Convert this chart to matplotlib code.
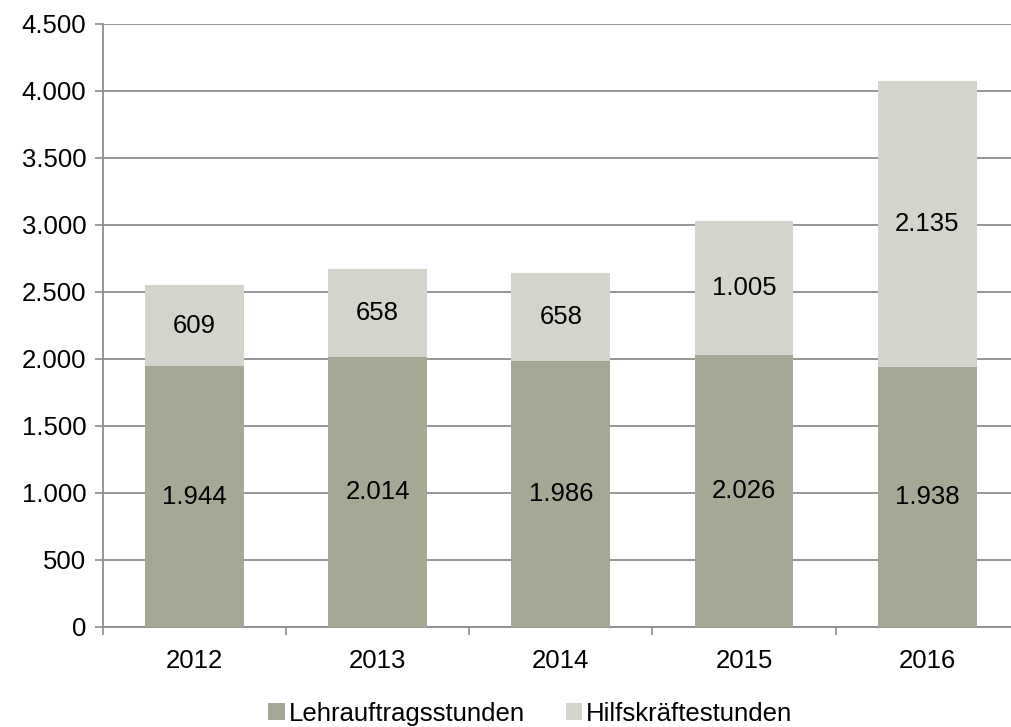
import matplotlib
matplotlib.use("Agg")
import matplotlib.pyplot as plt
from matplotlib.ticker import FuncFormatter

years = ["2012", "2013", "2014", "2015", "2016"]
lehrauftrag = [1944, 2014, 1986, 2026, 1938]
hilfskraefte = [609, 658, 658, 1005, 2135]
yticks = [0, 500, 1000, 1500, 2000, 2500, 3000, 3500, 4000, 4500]

plt.rcParams['font.family'] = ['Liberation Sans', 'DejaVu Sans']
FS = 18.5

dark = "#a5a895"
light = "#d3d4cb"
gridc = "#8c8c8c"

fig = plt.figure(figsize=(10.12, 7.27), dpi=100)
ax = fig.add_axes([0.1017, 0.1376, 0.905, 0.8294])

x = list(range(len(years)))
w = 0.54
b1 = ax.bar(x, lehrauftrag, w, color=dark, label="Lehrauftragsstunden", zorder=3)
b2 = ax.bar(x, hilfskraefte, w, bottom=lehrauftrag, color=light, label="Hilfskräftestunden", zorder=3)

fmt = lambda v: f"{v:,.0f}".replace(",", ".")
for i in x:
    ax.text(i, lehrauftrag[i] / 2, fmt(lehrauftrag[i]), ha="center", va="center", fontsize=FS, zorder=4)
    ax.text(i, lehrauftrag[i] + hilfskraefte[i] / 2, fmt(hilfskraefte[i]), ha="center", va="center", fontsize=FS, zorder=4)

ax.set_xlim(-0.5, len(years) - 0.5)
ax.set_ylim(0, 4500)
ax.set_yticks(yticks)
ax.yaxis.set_major_formatter(FuncFormatter(lambda v, p: fmt(v)))
ax.set_xticks(x)
ax.set_xticklabels(years)
ax.set_xticks([i + 0.5 for i in range(-1, len(years))], minor=True)
ax.tick_params(axis="x", which="major", length=0, labelsize=FS, pad=16)
ax.tick_params(axis="x", which="minor", length=6, color=gridc, width=1.2)
ax.tick_params(axis="y", length=6, color=gridc, width=1.2, labelsize=FS, pad=6)
ax.grid(axis="y", color=gridc, linewidth=1.3, zorder=0)

for s in ["top", "right"]:
    ax.spines[s].set_visible(False)
for s in ["left", "bottom"]:
    ax.spines[s].set_color(gridc)
    ax.spines[s].set_linewidth(1.3)

fig.legend(handles=[b1, b2], loc="lower center", bbox_to_anchor=(0.524, -0.03), ncol=2,
           frameon=False, fontsize=FS, handlelength=0.65, handleheight=0.65,
           handletextpad=0.15, columnspacing=1.6)

fig.savefig("out.png", dpi=100)
